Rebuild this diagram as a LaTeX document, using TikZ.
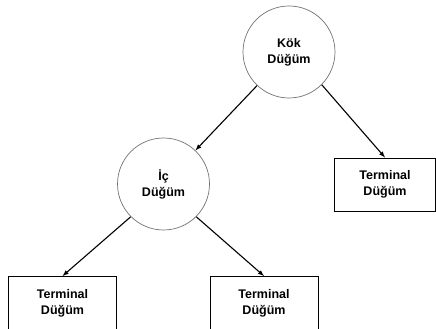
\documentclass[tikz,border=0pt]{standalone}
\usepackage{fontspec}
\setmainfont{Liberation Sans}
\usetikzlibrary{arrows}

\tikzset{
  dugum/.style={circle,draw=black!55,line width=0.7pt,minimum size=92pt,inner sep=0pt,align=center,font=\fontsize{12.5}{16}\selectfont\bfseries},
  terminal/.style={rectangle,draw,line width=0.9pt,minimum width=108pt,minimum height=53pt,inner sep=0pt,align=center,font=\fontsize{12.5}{16}\selectfont\bfseries}
}

\begin{document}
\begin{tikzpicture}[x=1pt,y=1pt,>=latex,line width=1.1pt]
        \useasboundingbox (0,0) rectangle (436,329);
        \node[dugum] (kok) at (289,277) {Kök\\Düğüm};
        \node[dugum] (ic) at (163.5,145) {İç\\Düğüm};
        \node[terminal,minimum width=101pt] (t1) at (385,144.5) {Terminal\\Düğüm};
        \node[terminal] (t2) at (62.5,26) {Terminal\\Düğüm};
        \node[terminal] (t3) at (264,26) {Terminal\\Düğüm};
        \draw[->] (kok) -- (ic);
        \draw[->] (kok.-45) -- (t1.north);
        \draw[->] (ic.-135) -- (t2.north);
        \draw[->] (ic.-45) -- (t3.north);
    \end{tikzpicture}
\end{document}
